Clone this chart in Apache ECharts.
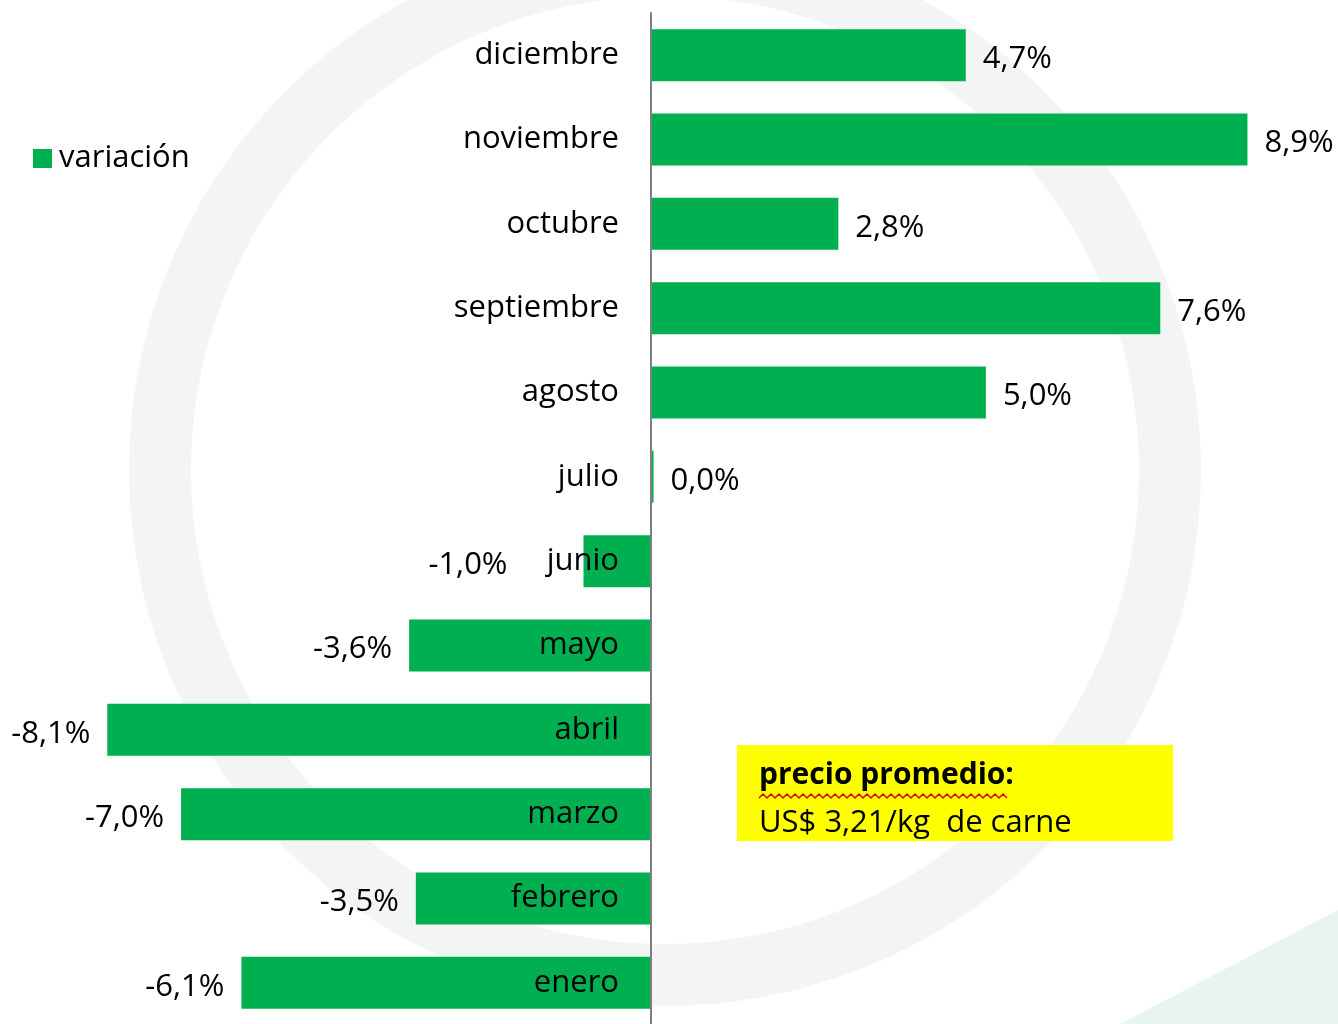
<!DOCTYPE html>
<html>
<head>
<meta charset="utf-8">
<script src="https://cdn.jsdelivr.net/npm/echarts@6/dist/echarts.min.js"></script>
<style>
  html, body { margin: 0; padding: 0; background: #fff; }
  #chart { width: 1338px; height: 1024px; }
</style>
</head>
<body>
<div id="chart"></div>
<script>
// meses de abajo hacia arriba (eje de categorías)
const meses = ['enero', 'febrero', 'marzo', 'abril', 'mayo', 'junio',
  'julio', 'agosto', 'septiembre', 'octubre', 'noviembre', 'diciembre'];
// variación mensual en %
const variacion = [-6.1, -3.5, -7.0, -8.1, -3.6, -1.0, 0.0, 5.0, 7.6, 2.8, 8.9, 4.7];
const nombreSerie = 'variación';
const notaTitulo = 'precio promedio:';
const notaValor = 'US$ 3,21/kg  de carne';

const VERDE = '#00b050';
const FUENTE = '"Open Sans", sans-serif';

const chart = echarts.init(document.getElementById('chart'));

const fmt = v => v.toFixed(1).replace('.', ',') + '%';

const data = variacion.map((v, i) => ({
  value: v,
  label: {
    position: v < 0 ? 'left' : 'right',
    // junio: la etiqueta se corre para no pisar el nombre del mes
    distance: meses[i] === 'junio' ? 76 : 17
  }
}));

// subrayado ondulado (corrector ortográfico) bajo "precio promedio"
const onda = [];
for (let x = 759; x <= 1010; x += 4) {
  onda.push([x, 796 + ((x - 759) / 4 % 2 ? -2 : 2)]);
}

const option = {
  backgroundColor: '#fff',
  animation: false,
  textStyle: { fontFamily: FUENTE },
  legend: {
    left: 28,
    top: 138,
    icon: 'rect',
    itemWidth: 19,
    itemHeight: 19,
    itemGap: 10,
    textStyle: { fontSize: 31, color: '#000', fontFamily: FUENTE, padding: [0, 0, 0, 2] },
    data: [nombreSerie]
  },
  grid: {
    left: 0, right: 0, top: 13, bottom: -1,
    containLabel: false,
    outerBoundsMode: 'none'
  },
  xAxis: {
    type: 'value',
    min: -9.7,
    max: 10.25,
    show: false,
    splitLine: { show: false }
  },
  yAxis: {
    type: 'category',
    data: meses,
    z: 5,
    // el eje se desplaza hasta el cero del eje de valores
    offset: -651,
    axisLine: { onZero: false, lineStyle: { color: '#7f7f7f', width: 2 } },
    axisTick: { show: false },
    axisLabel: {
      margin: 32, fontSize: 31, color: '#000', fontFamily: FUENTE,
      padding: [8, 0, 0, 0]
    }
  },
  graphic: [
    // marca de agua tenue
    {
      type: 'circle', z: -10, silent: true,
      shape: { cx: 665, cy: 470, r: 505 },
      style: { fill: 'none', stroke: '#f2f5f4', lineWidth: 62 }
    },
    {
      type: 'polygon', z: -10, silent: true,
      shape: { points: [[1338, 910], [1338, 1024], [1120, 1024]] },
      style: { fill: '#e8f4ef' }
    },
    // cuadro amarillo
    {
      type: 'rect', z: 10,
      shape: { x: 737, y: 745, width: 436, height: 96 },
      style: { fill: '#ffff00' }
    },
    {
      type: 'text', z: 11,
      left: 759, top: 760,
      style: { text: notaTitulo, font: 'bold 30px ' + FUENTE, fill: '#000' }
    },
    {
      type: 'polyline', z: 12, silent: true,
      shape: { points: onda },
      style: { stroke: '#e00000', lineWidth: 1.5, fill: 'none' }
    },
    {
      type: 'text', z: 11,
      left: 759, top: 808,
      style: { text: notaValor, font: '31px ' + FUENTE, fill: '#000' }
    }
  ],
  series: [{
    name: nombreSerie,
    type: 'bar',
    barWidth: 52,
    barMinHeight: 3,
    itemStyle: { color: VERDE },
    label: {
      show: true,
      fontSize: 31,
      color: '#000',
      fontFamily: FUENTE,
      offset: [0, 4],
      formatter: p => fmt(p.value)
    },
    data
  }]
};

chart.setOption(option);
window.addEventListener('resize', () => chart.resize());
</script>
</body>
</html>
